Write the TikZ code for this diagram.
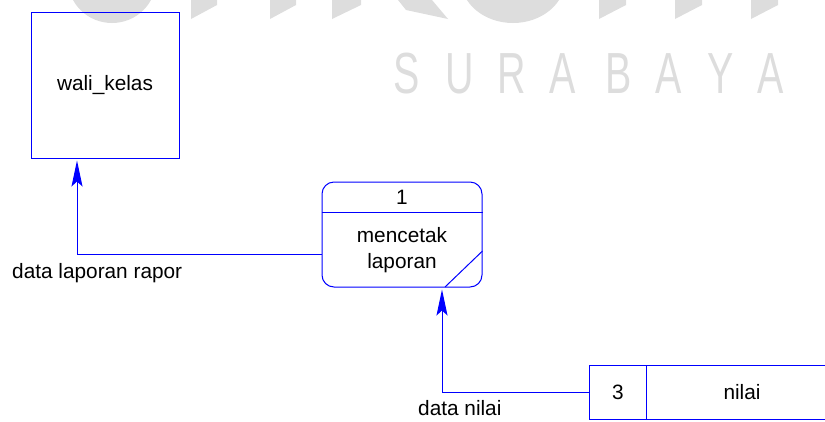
\documentclass[tikz,border=0pt]{standalone}
\usepackage{fontspec}
\setmainfont{Liberation Sans}
\usetikzlibrary{arrows.meta,calc}
\definecolor{dfdblue}{RGB}{0,0,255}
\definecolor{wm}{RGB}{221,221,221}
\begin{document}
\begin{tikzpicture}[x=1pt,y=-1pt,
  line/.style={draw=dfdblue,line width=1pt},
  flow/.style={line,-{Stealth[length=26pt,width=11pt,inset=5pt,fill=dfdblue]},shorten >=2pt},
  txt/.style={inner sep=0pt,font=\fontsize{20.8}{26}\selectfont,text=black},
  wmtext/.style={inner sep=0pt,text=wm,font=\fontsize{58}{60}\selectfont,xscale=0.68}]
\useasboundingbox (0,0) rectangle (825,421);
% watermark
\begin{scope}
\clip (0,0) rectangle (825,421);
\fill[wm] (112,-20) ellipse [x radius=44, y radius=43];
\fill[wm] (513,-20) ellipse [x radius=52, y radius=43];
\foreach \a/\b in {191/217,270/296,332/361,599/626,675/702,751/778}
  \fill[wm] (\a,0) -- (\a,19) -- (\b,5) -- (\b,0) -- cycle;
\fill[wm] (398,0) -- (406,10) -- (448,19) -- (432,0) -- cycle;
\end{scope}
\foreach \c/\x [count=\i] in {S/407,U/460,R/512,A/563,B/619,A/669,Y/721,A/771}
  \node[wmtext] (wm\i) at (\x,74) {\c};
% external entity
\node[line,draw,txt,minimum width=148pt,minimum height=146pt] (wali) at (105,85) {wali\_kelas};
% process
\node[line,draw,rounded corners=12pt,minimum width=160pt,minimum height=105pt,inner sep=0pt] (proc) at (402,234.5) {};
\draw[line] (proc.west |- 0,212) -- (proc.east |- 0,212);
\draw[line] (proc.east |- 0,251) -- (445,287);
\node[txt] (pnum) at (402,197) {1};
\node[txt,align=center] (pname) at (402,250) {mencetak\\laporan};
% data store
\node[inner sep=0pt,minimum width=235pt,minimum height=53pt] (store) at (707.5,392.5) {};
\draw[line] (store.north east) -- (store.north west) -- (store.south west) -- (store.south east);
\draw[line] (646,366) -- (646,419);
\node[txt] (snum) at (618,392.5) {3};
\node[txt] (sname) at (742,392.5) {nilai};
% flows
\draw[flow] (proc.west |- 0,254) -| (wali.south -| 77,0);
\draw[flow] (store.west) -| (proc.south -| 442,0);
\node[txt,anchor=west] (lab1) at (12,273) {data laporan rapor};
\node[txt,anchor=west] (lab2) at (418,408) {data nilai};
\end{tikzpicture}
\end{document}
